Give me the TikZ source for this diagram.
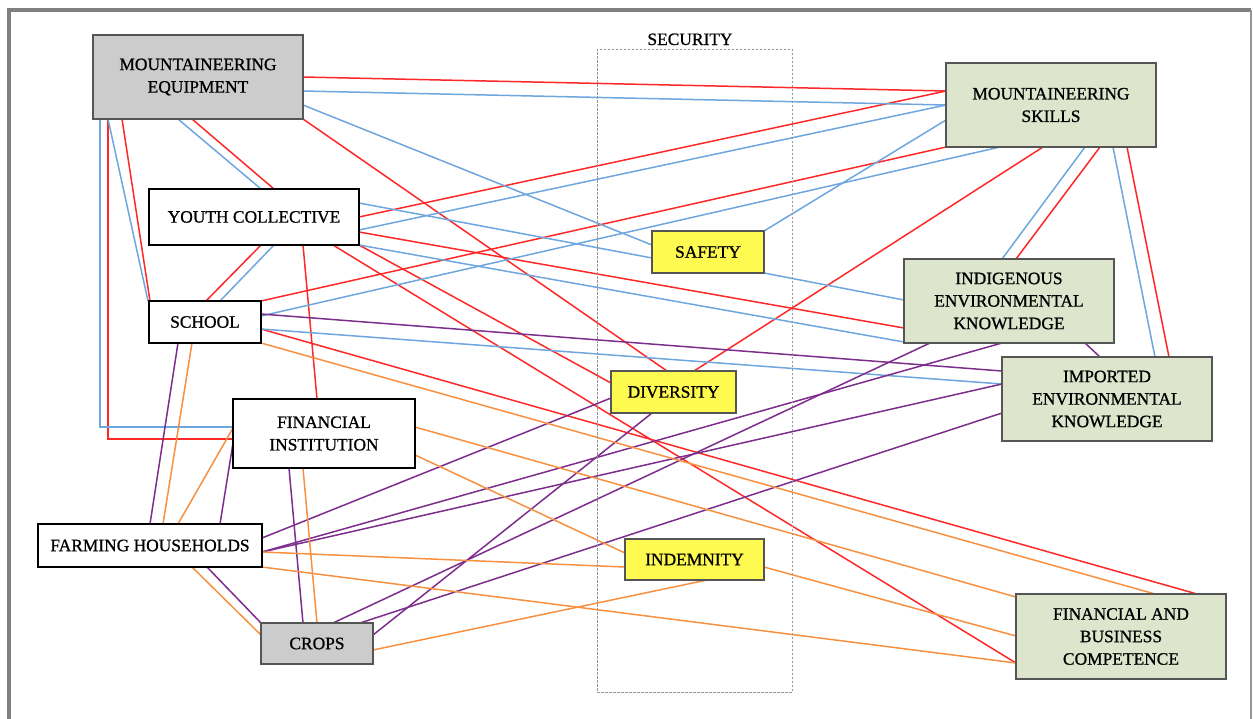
\documentclass[tikz,border=0pt]{standalone}
\usepackage{fontspec}
\setmainfont{Liberation Serif}
\newfontfamily\nodefont{Liberation Serif}[FakeBold=0.9]
\usetikzlibrary{calc,backgrounds}
\definecolor{lred}{RGB}{255,40,40}
\definecolor{lblue}{RGB}{110,166,222}
\definecolor{lpurp}{RGB}{125,45,140}
\definecolor{lorange}{RGB}{247,145,65}
\definecolor{gfill}{RGB}{221,230,204}
\definecolor{yfill}{RGB}{255,250,80}
\definecolor{grfill}{RGB}{204,204,204}
\definecolor{bord}{RGB}{85,85,85}
\newcommand\myedge[7]{\draw[conn,#1] ($(#2.north west)+(#3,#4)$) -- ($(#5.north west)+(#6,#7)$);}
\begin{document}
\begin{tikzpicture}[x=1pt,y=-1pt,
  box/.style={rectangle, inner sep=0pt, outer sep=0pt, align=center, anchor=north west,
    font=\nodefont\fontsize{17.4}{22.5}\selectfont},
  gbox/.style={box, fill=grfill, draw=bord, line width=1.3pt},
  wbox/.style={box, fill=white, draw=black, line width=2pt},
  grn/.style={box, fill=gfill, draw=bord, line width=1.3pt},
  ylw/.style={box, fill=yfill, draw=bord, line width=1.3pt},
  conn/.style={line width=1.5pt}]
\useasboundingbox (0,0) rectangle (1253,718);
% frame
\draw[line width=3.5pt, color={rgb,255:red,128;green,128;blue,128}] (9,722) -- (9,10) -- (1251,10);
\draw[line width=1.8pt, color={rgb,255:red,150;green,150;blue,150}] (1251,10) -- (1251,722);
% security group
\node[box, draw={rgb,255:red,150;green,150;blue,150}, line width=0.9pt, dash pattern=on 2.5pt off 1.5pt,
  minimum width=195pt, minimum height=643pt] (secbox) at (597,49) {};
\node[anchor=base, inner sep=0pt, font=\nodefont\fontsize{17.4}{22.5}\selectfont] (seclabel) at (690,45) {SECURITY};
% nodes
\node[gbox, minimum width=210pt, minimum height=84pt] (equip) at (93,35) {MOUNTAINEERING\\EQUIPMENT};
\node[wbox, minimum width=210pt, minimum height=56pt] (youth) at (149,189) {YOUTH COLLECTIVE};
\node[wbox, minimum width=112pt, minimum height=42pt] (school) at (149,301) {SCHOOL};
\node[wbox, minimum width=182pt, minimum height=69pt] (fininst) at (233,399) {FINANCIAL\\INSTITUTION};
\node[wbox, minimum width=224pt, minimum height=43pt] (farming) at (38,524) {FARMING HOUSEHOLDS};
\node[gbox, minimum width=112pt, minimum height=41pt] (crops) at (261,623) {CROPS};
\node[grn, minimum width=210pt, minimum height=84pt] (skills) at (946,63) {MOUNTAINEERING\\SKILLS};
\node[grn, minimum width=210pt, minimum height=84pt] (indig) at (904,259) {INDIGENOUS\\ENVIRONMENTAL\\KNOWLEDGE};
\node[grn, minimum width=210pt, minimum height=84pt] (imported) at (1002,357) {IMPORTED\\ENVIRONMENTAL\\KNOWLEDGE};
\node[grn, minimum width=210pt, minimum height=85pt] (finbus) at (1016,594) {FINANCIAL AND\\BUSINESS\\COMPETENCE};
\node[ylw, minimum width=112pt, minimum height=42pt] (safety) at (652,231) {SAFETY};
\node[ylw, minimum width=125pt, minimum height=42pt] (diversity) at (611,371) {DIVERSITY};
\node[ylw, minimum width=139pt, minimum height=41pt] (indemnity) at (625,539) {INDEMNITY};
\begin{scope}[on background layer]
% red
\myedge{lred}{equip}{210}{42}{skills}{0}{28}
\myedge{lred}{youth}{210}{28}{skills}{0}{28}
\myedge{lred}{school}{112}{0}{skills}{0}{84}
\myedge{lred}{skills}{97}{84}{diversity}{83}{0}
\myedge{lred}{skills}{154}{84}{indig}{112}{0}
\myedge{lred}{skills}{181}{84}{imported}{167}{0}
\myedge{lred}{youth}{210}{43}{indig}{0}{69}
\myedge{lred}{equip}{210}{84}{diversity}{56}{0}
\myedge{lred}{equip}{99}{84}{youth}{125}{0}
\myedge{lred}{equip}{29}{84}{school}{1}{0}
\draw[conn,lred] ($(equip.north west)+(15,84)$) |- ($(fininst.north west)+(0,40)$);
\myedge{lred}{youth}{112}{56}{school}{57}{0}
\myedge{lred}{youth}{154}{56}{fininst}{84}{0}
\myedge{lred}{youth}{210}{56}{diversity}{0}{12}
\myedge{lred}{youth}{184}{56}{finbus}{0}{69}
\myedge{lred}{school}{112}{28}{finbus}{181}{0}
% blue
\myedge{lblue}{equip}{210}{56}{skills}{0}{42}
\myedge{lblue}{youth}{210}{41}{skills}{0}{42}
\myedge{lblue}{equip}{210}{70}{safety}{0}{14}
\myedge{lblue}{youth}{210}{14}{safety}{0}{27}
\myedge{lblue}{youth}{210}{56}{indig}{0}{83}
\myedge{lblue}{school}{112}{15}{skills}{54}{84}
\myedge{lblue}{school}{112}{28}{imported}{0}{27}
\myedge{lblue}{safety}{112}{0}{skills}{0}{57}
\myedge{lblue}{safety}{112}{42}{indig}{0}{41}
\myedge{lblue}{skills}{139}{84}{indig}{98}{0}
\myedge{lblue}{skills}{167}{84}{imported}{153}{0}
\myedge{lblue}{equip}{85}{84}{youth}{112}{0}
\myedge{lblue}{equip}{15}{84}{school}{-1}{0}
\draw[conn,lblue] ($(equip.north west)+(7,84)$) |- ($(fininst.north west)+(0,28)$);
\myedge{lblue}{youth}{125}{56}{school}{71}{0}
% purple
\myedge{lpurp}{school}{112}{13}{imported}{0}{14}
\myedge{lpurp}{farming}{112}{0}{school}{29}{42}
\myedge{lpurp}{farming}{182}{0}{fininst}{0}{44}
\myedge{lpurp}{farming}{169}{43}{crops}{0}{0}
\myedge{lpurp}{fininst}{56}{69}{crops}{42}{0}
\myedge{lpurp}{farming}{224}{14}{diversity}{0}{27}
\myedge{lpurp}{farming}{224}{28}{indig}{98}{84}
\myedge{lpurp}{farming}{224}{28}{imported}{0}{27}
\myedge{lpurp}{indig}{26}{84}{crops}{72}{0}
\myedge{lpurp}{imported}{0}{56}{crops}{99}{0}
\myedge{lpurp}{diversity}{41}{42}{crops}{112}{12}
\myedge{lpurp}{indig}{181}{84}{imported}{98}{0}
% orange
\myedge{lorange}{farming}{125}{0}{school}{43}{42}
\myedge{lorange}{farming}{140}{0}{fininst}{0}{29}
\myedge{lorange}{farming}{154}{43}{crops}{0}{12}
\myedge{lorange}{fininst}{70}{69}{crops}{56}{0}
\myedge{lorange}{school}{112}{42}{finbus}{139}{0}
\myedge{lorange}{fininst}{182}{28}{finbus}{0}{3}
\myedge{lorange}{fininst}{182}{56}{indemnity}{0}{14}
\myedge{lorange}{farming}{224}{28}{indemnity}{0}{28}
\myedge{lorange}{farming}{224}{43}{finbus}{0}{69}
\myedge{lorange}{crops}{112}{27}{indemnity}{82}{41}
\myedge{lorange}{indemnity}{139}{28}{finbus}{0}{42}
\end{scope}
\end{tikzpicture}
\end{document}
